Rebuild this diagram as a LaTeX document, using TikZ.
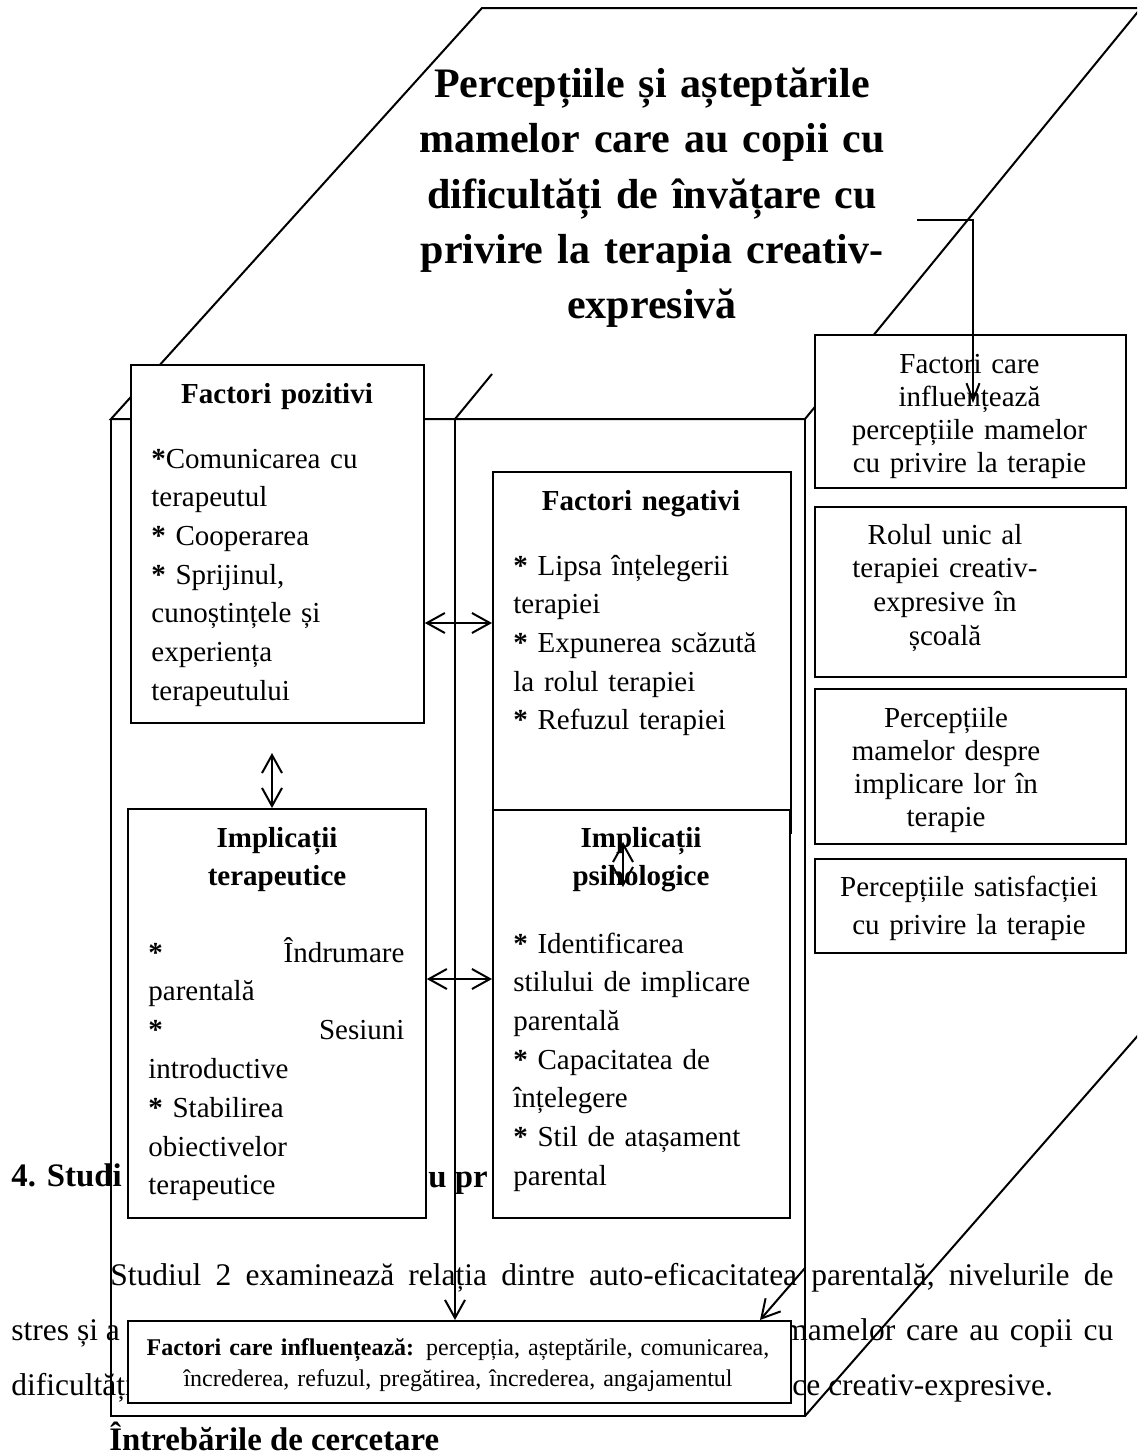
\documentclass[tikz,border=0pt]{standalone}
\usepackage{fontspec}
\setmainfont{Liberation Serif}
\usetikzlibrary{arrows.meta}
\begin{document}
\begin{tikzpicture}[x=0.5pt,y=-0.5pt,
  cube/.style={line width=1pt, line join=miter},
  boxn/.style={draw, line width=0.9pt, fill=white, inner sep=0pt, anchor=north west},
  txt/.style={inner sep=0pt, anchor=base west, align=left, text width=140pt, font=\fontsize{14.5}{19.35}\selectfont},
  ctxt/.style={inner sep=0pt, anchor=base, align=center},
  rtxt/.style={ctxt, text width=150pt},
  ttl/.style={ctxt, text width=140pt, font=\bfseries\fontsize{14.5}{19}\selectfont},
  body/.style={inner sep=0pt, anchor=base west, font=\fontsize{15.75}{27.5}\selectfont},
  head/.style={inner sep=0pt, anchor=base west, font=\bfseries\fontsize{16.4}{27.5}\selectfont},
  tip/.tip={Straight Barb[length=9pt,width=10pt]},
  arr/.style={line width=1pt, -tip},
  darr/.style={line width=1pt, tip-tip},
  thin arr/.style={line width=1pt, -{Straight Barb[length=8.5pt,width=6.5pt]}},
]
\useasboundingbox (0,0) rectangle (1137,1456);
\fill[white] (0,0) rectangle (1137,1456);
\clip (0,0) rectangle (1137,1456);

% background document text
\node[head] (h4) at (11,1186) {4. Studi};
\node[head] (hu) at (428,1187) {u pr};
\node[body] (b1) at (110,1285) {\hbox to 501.5pt{Studiul\hfill 2\hfill examinează\hfill relația\hfill dintre\hfill auto-eficacitatea\hfill parentală,\hfill nivelurile\hfill de}};
\node[body] (b2l) at (11,1340) {stres și a};
\node[body] (b2r) at (783,1340) {\hbox to 165pt{mamelor\hfill care\hfill au\hfill copii\hfill cu}};
\node[body] (b3l) at (11,1395) {dificultăți};
\node[body] (b3r) at (792,1395) {ce creativ-expresive.};
\node[head] (q) at (109,1450) {Întrebările de cercetare};

% cube
\draw[cube] (111,419) -- (482,8) -- (1141,8) -- (805,419) -- cycle;
\draw[cube] (111,419) -- (111,1416) -- (805,1416) -- (805,419);
\draw[cube] (805,1416) -- (1141,1032);
\coordinate (mtop) at (492,374);
\coordinate (mc) at (455,419);
\draw[cube] (mtop) -- (mc);

% title
\node[ctxt, text width=250pt, font=\bfseries\fontsize{21}{27.75}\selectfont] (tt) at (652,97)
  {Percepțiile și așteptările\\ mamelor care au copii cu\\ dificultăți de învățare cu\\ privire la terapia creativ-\\ expresivă};

% boxes
\node[boxn, minimum width=146.5pt, minimum height=179pt] (fp) at (130,364) {};
\node[boxn, minimum width=149pt, minimum height=180.5pt] (fn) at (492,471) {};
\node[boxn, minimum width=149pt, minimum height=204.5pt] (it) at (127,808) {};
\node[boxn, minimum width=148.5pt, minimum height=204pt] (ip) at (492,809) {};
\node[boxn, minimum width=155.5pt, minimum height=76.5pt] (r1) at (814,334) {};
\node[boxn, minimum width=155.5pt, minimum height=85pt] (r2) at (814,506) {};
\node[boxn, minimum width=155.5pt, minimum height=77.5pt] (r3) at (814,688) {};
\node[boxn, minimum width=155.5pt, minimum height=47pt] (r4) at (814,858) {};
\node[boxn, minimum width=331.5pt, minimum height=41pt] (fb) at (127,1320) {};

% box texts
\node[ttl] (fpt) at (277,403) {Factori pozitivi};
\node[txt] (fpc) at (151,468) {\textbf{*}Comunicarea cu\\ terapeutul\\ \textbf{*} Cooperarea\\ \textbf{*} Sprijinul,\\ cunoștințele și\\ experiența\\ terapeutului};

\node[ttl] (fnt) at (641,510) {Factori negativi};
\node[txt] (fnc) at (513,575) {\textbf{*} Lipsa înțelegerii\\ terapiei\\ \textbf{*} Expunerea scăzută\\ la rolul terapiei\\ \textbf{*} Refuzul terapiei};

\node[ttl] (itt) at (277,847) {Implicații\\ terapeutice};
\node[txt, font=\fontsize{14.5}{19.4}\selectfont] (itc) at (148,962) {\makebox[128pt][s]{\textbf{*}\hfill Îndrumare}\\ parentală\\ \makebox[128pt][s]{\textbf{*}\hfill Sesiuni}\\ introductive\\ \textbf{*} Stabilirea\\ obiectivelor\\ terapeutice};

\node[ttl] (ipt) at (641,847) {Implicații\\ psihologice};
\node[txt] (ipc) at (513,953) {\textbf{*} Identificarea\\ stilului de implicare\\ parentală\\ \textbf{*} Capacitatea de\\ înțelegere\\ \textbf{*} Stil de atașament\\ parental};

\node[rtxt, font=\fontsize{14.5}{16.5}\selectfont] (r1t) at (969.5,373) {Factori care\\ influențează\\ percepțiile mamelor\\ cu privire la terapie};
\node[rtxt, font=\fontsize{14.5}{16.85}\selectfont] (r2t) at (945,544) {Rolul unic al\\ terapiei creativ-\\ expresive în\\ școală};
\node[rtxt, font=\fontsize{14.5}{16.65}\selectfont] (r3t) at (946,727) {Percepțiile\\ mamelor despre\\ implicare lor în\\ terapie};
\node[rtxt, font=\fontsize{14.5}{19}\selectfont] (r4t) at (969,896) {Percepțiile satisfacției\\ cu privire la terapie};

\node[ctxt, text width=330pt, font=\fontsize{12}{15.5}\selectfont] (fbt) at (458,1355)
  {\textbf{Factori care influențează:} percepția, așteptările, comunicarea,\\ încrederea, refuzul, pregătirea, încrederea, angajamentul};

% connectors
\coordinate (a1s) at (917,220);
\coordinate (a1e) at (973,403);
\draw[thin arr] (a1s) -- (a1s -| a1e) -- (a1e);

\draw[arr] (mc) -- (mc |- fb.north);

\coordinate (a3s) at (805,1268);
\coordinate (a3e) at (760,1320);
\draw[arr] (a3s) -- (a3e);

\draw[darr] (fp.east |- 0,623) -- (fn.west |- 0,623);
\draw[darr] (it.east |- 0,979) -- (ip.west |- 0,979);

\coordinate (v1) at (272,753);
\draw[darr] (v1) -- (v1 |- it.north);

\coordinate (v2a) at (623,842);
\coordinate (v2b) at (623,887);
\draw[darr] (v2a) -- (v2b);
\end{tikzpicture}
\end{document}
